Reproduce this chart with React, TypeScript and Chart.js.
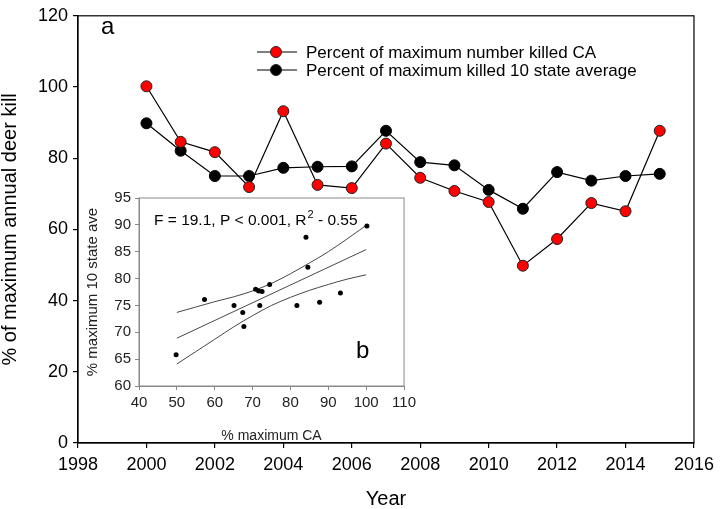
import React, { useEffect, useRef } from "react";
import { Chart, registerables } from "chart.js";

Chart.register(...registerables);

// ---- data ----
const years = [2000, 2001, 2002, 2003, 2004, 2005, 2006, 2007, 2008, 2009, 2010, 2011, 2012, 2013, 2014, 2015];
const caPercent = [100.2, 84.6, 81.7, 71.9, 93.2, 72.5, 71.6, 84.1, 74.5, 70.8, 67.7, 49.8, 57.3, 67.4, 65.1, 87.7];
const stateAvgPercent = [89.8, 82.1, 75.0, 75.0, 77.3, 77.6, 77.7, 87.7, 78.9, 78.0, 71.1, 65.8, 76.1, 73.7, 75.0, 75.6];

const seriesLabels = ["Percent of maximum number killed CA", "Percent of maximum killed 10 state average"];

// regression fit and confidence band
const fitX = [50, 100];
const fitY = [68.9, 85.4];
const bandX = [50, 55, 60, 65, 70, 75, 80, 85, 90, 95, 100];
const bandUpper = [73.7, 74.7, 75.7, 76.6, 77.7, 79.1, 80.9, 82.9, 85.0, 87.4, 89.9];
const bandLower = [64.1, 66.4, 68.7, 71.0, 73.1, 75.0, 76.5, 77.8, 78.9, 79.9, 80.7];

const statsText = "F = 19.1, P < 0.001, R";
const statsSup = "2";
const statsTail = " - 0.55";

const FONT = "Arial, 'Liberation Sans', sans-serif";

export default function App() {
  const mainRef = useRef<HTMLCanvasElement>(null);
  const insetRef = useRef<HTMLCanvasElement>(null);

  useEffect(() => {
    document.body.style.margin = "0";
    const mainFrame = {
      id: "mainFrame",
      afterDraw(chart: any) {
        const { ctx, chartArea } = chart;
        ctx.save();
        ctx.strokeStyle = "#000";
        ctx.lineWidth = 1.2;
        ctx.strokeRect(chartArea.left, chartArea.top, chartArea.right - chartArea.left, chartArea.bottom - chartArea.top);
        // panel letter
        ctx.fillStyle = "#000";
        ctx.font = `24px ${FONT}`;
        ctx.textBaseline = "alphabetic";
        ctx.fillText("a", 101, 34);
        // legend
        const rows = [
          { y: 52, fill: "#ff0000", label: seriesLabels[0] },
          { y: 70, fill: "#000000", label: seriesLabels[1] },
        ];
        ctx.font = `17px ${FONT}`;
        ctx.textBaseline = "middle";
        rows.forEach((r) => {
          ctx.beginPath();
          ctx.moveTo(257, r.y);
          ctx.lineTo(297, r.y);
          ctx.lineWidth = 1.2;
          ctx.strokeStyle = "#000";
          ctx.stroke();
          ctx.beginPath();
          ctx.arc(276, r.y, 5.5, 0, Math.PI * 2);
          ctx.fillStyle = r.fill;
          ctx.fill();
          ctx.lineWidth = 1;
          ctx.strokeStyle = "#222";
          ctx.stroke();
          ctx.fillStyle = "#000";
          ctx.fillText(r.label, 306, r.y + 1);
        });
        ctx.restore();
      },
    };

    const main = new Chart(mainRef.current!, {
      type: "line",
      data: {
        datasets: [
          {
            label: seriesLabels[0],
            data: years.map((y, i) => ({ x: y, y: caPercent[i] })),
            borderColor: "#000",
            borderWidth: 1.2,
            pointRadius: 5.5,
            pointBackgroundColor: "#ff0000",
            pointBorderColor: "#222",
            pointBorderWidth: 1,
            tension: 0,
          },
          {
            label: seriesLabels[1],
            data: years.map((y, i) => ({ x: y, y: stateAvgPercent[i] })),
            borderColor: "#000",
            borderWidth: 1.2,
            pointRadius: 5.5,
            pointBackgroundColor: "#000",
            pointBorderColor: "#000",
            pointBorderWidth: 1,
            tension: 0,
          },
        ],
      },
      options: {
        animation: false,
        responsive: false,
        layout: { padding: { top: 7, right: 19, left: 0, bottom: 0 } },
        plugins: { legend: { display: false }, tooltip: { enabled: false } },
        scales: {
          x: {
            type: "linear",
            min: 1998,
            max: 2016,
            afterFit: (s: any) => { s.height = 66; },
            ticks: { stepSize: 2, color: "#000", font: { size: 18, family: FONT }, padding: 6, callback: (v: any) => String(v) },
            grid: { drawOnChartArea: false, drawTicks: true, tickLength: 5, color: "#000", lineWidth: 1.2 },
            border: { display: true, color: "#000", width: 1.2 },
            title: { display: true, text: "Year", color: "#000", font: { size: 20, family: FONT, lineHeight: 1.0 }, padding: { top: 0, bottom: 0 } },
          },
          y: {
            min: 0,
            max: 120,
            afterFit: (s: any) => { s.width = 78; },
            ticks: { stepSize: 20, color: "#000", font: { size: 18, family: FONT }, padding: 5 },
            grid: { drawOnChartArea: false, drawTicks: true, tickLength: 5, color: "#000", lineWidth: 1.2 },
            border: { display: true, color: "#000", width: 1.2 },
            title: { display: true, text: "% of maximum annual deer kill", color: "#000", font: { size: 20, family: FONT, lineHeight: 1.0 }, padding: { top: 0, bottom: 0 } },
          },
        },
      },
      plugins: [mainFrame],
    });

    const insetFrame = {
      id: "insetFrame",
      afterDraw(chart: any) {
        const { ctx, chartArea } = chart;
        ctx.save();
        ctx.strokeStyle = "#888";
        ctx.lineWidth = 1;
        ctx.strokeRect(chartArea.left, chartArea.top, chartArea.right - chartArea.left, chartArea.bottom - chartArea.top);
        ctx.fillStyle = "#000";
        ctx.textBaseline = "alphabetic";
        ctx.font = `15.5px ${FONT}`;
        const x0 = 74;
        const y0 = 40;
        ctx.fillText(statsText, x0, y0);
        const w1 = ctx.measureText(statsText).width;
        ctx.font = `11px ${FONT}`;
        ctx.fillText(statsSup, x0 + w1 + 1, y0 - 7);
        const w2 = ctx.measureText(statsSup).width;
        ctx.font = `15.5px ${FONT}`;
        ctx.fillText(statsTail, x0 + w1 + w2 + 1, y0);
        ctx.font = `24px ${FONT}`;
        ctx.fillText("b", 276, 173);
        ctx.restore();
      },
    };

    const inset = new Chart(insetRef.current!, {
      type: "scatter",
      data: {
        datasets: [
          {
            data: caPercent.map((v, i) => ({ x: v, y: stateAvgPercent[i] })),
            pointRadius: 2.5,
            pointBackgroundColor: "#000",
            pointBorderColor: "#000",
            borderWidth: 0,
          },
          {
            data: fitX.map((x, i) => ({ x, y: fitY[i] })),
            showLine: true,
            borderColor: "#333",
            borderWidth: 0.9,
            pointRadius: 0,
          },
          {
            data: bandX.map((x, i) => ({ x, y: bandUpper[i] })),
            showLine: true,
            borderColor: "#333",
            borderWidth: 0.9,
            pointRadius: 0,
            tension: 0.4,
            cubicInterpolationMode: "monotone",
          },
          {
            data: bandX.map((x, i) => ({ x, y: bandLower[i] })),
            showLine: true,
            borderColor: "#333",
            borderWidth: 0.9,
            pointRadius: 0,
            tension: 0.4,
            cubicInterpolationMode: "monotone",
          },
        ],
      },
      options: {
        animation: false,
        responsive: false,
        layout: { padding: { top: 13, right: 11, left: 0, bottom: 0 } },
        plugins: { legend: { display: false }, tooltip: { enabled: false } },
        scales: {
          x: {
            type: "linear",
            min: 40,
            max: 110,
            afterFit: (s: any) => { s.height = 59; },
            ticks: { stepSize: 10, color: "#222", font: { size: 15, family: FONT }, padding: 4 },
            grid: { drawOnChartArea: false, drawTicks: true, tickLength: 4, color: "#888", lineWidth: 1 },
            border: { display: true, color: "#888", width: 1 },
            title: { display: true, text: "% maximum CA", color: "#222", font: { size: 14, family: FONT, lineHeight: 1.2 }, padding: { top: 0, bottom: 0 } },
          },
          y: {
            min: 60,
            max: 95,
            afterFit: (s: any) => { s.width = 59; },
            ticks: { stepSize: 5, color: "#222", font: { size: 15, family: FONT }, padding: 4 },
            grid: { drawOnChartArea: false, drawTicks: true, tickLength: 4, color: "#888", lineWidth: 1 },
            border: { display: true, color: "#888", width: 1 },
            title: { display: true, text: "% maximum 10 state ave", color: "#222", font: { size: 15, family: FONT, lineHeight: 1.2 }, padding: { top: 4, bottom: 0 } },
          },
        },
      },
      plugins: [insetFrame],
    });

    return () => {
      main.destroy();
      inset.destroy();
    };
  }, []);

  return (
    <div style={{ position: "absolute", left: 0, top: 0, width: 720, height: 509, background: "#fff" }}>
      <canvas ref={mainRef} width={720} height={509} style={{ position: "absolute", left: 0, top: 0, width: 720, height: 509 }} />
      <canvas ref={insetRef} width={340} height={260} style={{ position: "absolute", left: 80, top: 185, width: 340, height: 260 }} />
    </div>
  );
}
